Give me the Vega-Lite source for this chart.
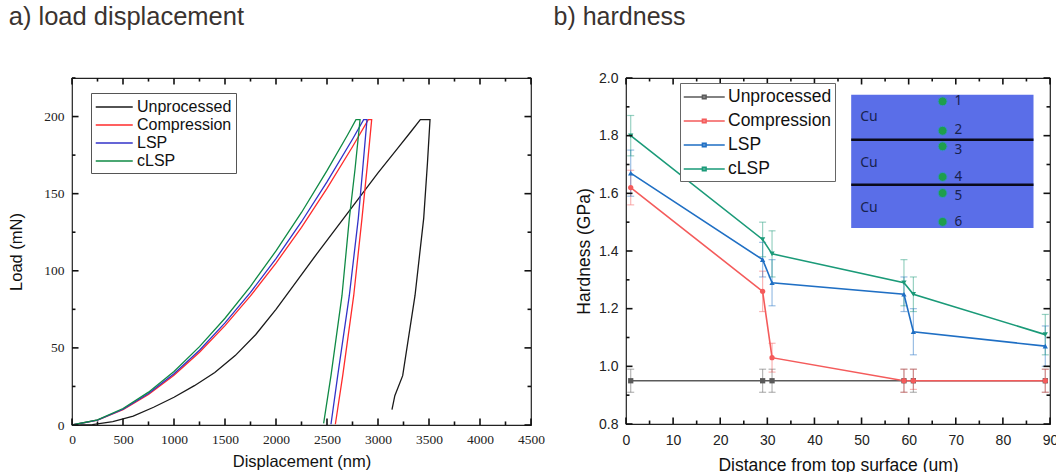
{
  "$schema": "https://vega.github.io/schema/vega-lite/v6.json",
  "background": "white",
  "padding": {"left": 8, "top": 4, "right": 0, "bottom": 0},
  "spacing": 6,
  "resolve": {"scale": {"color": "independent", "shape": "independent"}, "legend": {"color": "independent", "shape": "independent"}},
  "config": {
    "view": {"stroke": "#222", "strokeWidth": 1.2},
    "font": "Liberation Sans",
    "axis": {"grid": false, "domain": false, "ticks": false, "tickSize": 0, "labelColor": "#222", "titleColor": "#111", "titleFontWeight": "normal", "labelOverlap": false, "labelFlush": false}
  },
  "datasets": {
    "ld": [
      {"s": "Unprocessed", "i": 0, "d": 0, "l": 0},
      {"s": "Unprocessed", "i": 1, "d": 200, "l": 0.3},
      {"s": "Unprocessed", "i": 2, "d": 400, "l": 2.2},
      {"s": "Unprocessed", "i": 3, "d": 600, "l": 5.8},
      {"s": "Unprocessed", "i": 4, "d": 800, "l": 11.5},
      {"s": "Unprocessed", "i": 5, "d": 1000, "l": 18},
      {"s": "Unprocessed", "i": 6, "d": 1200, "l": 25.5},
      {"s": "Unprocessed", "i": 7, "d": 1400, "l": 34},
      {"s": "Unprocessed", "i": 8, "d": 1600, "l": 45},
      {"s": "Unprocessed", "i": 9, "d": 1800, "l": 58.5},
      {"s": "Unprocessed", "i": 10, "d": 2000, "l": 75},
      {"s": "Unprocessed", "i": 11, "d": 2200, "l": 93},
      {"s": "Unprocessed", "i": 12, "d": 2400, "l": 111},
      {"s": "Unprocessed", "i": 13, "d": 2600, "l": 128.5},
      {"s": "Unprocessed", "i": 14, "d": 2800, "l": 146},
      {"s": "Unprocessed", "i": 15, "d": 3000, "l": 163.5},
      {"s": "Unprocessed", "i": 16, "d": 3200, "l": 180},
      {"s": "Unprocessed", "i": 17, "d": 3320, "l": 190},
      {"s": "Unprocessed", "i": 18, "d": 3415, "l": 198},
      {"s": "Unprocessed", "i": 19, "d": 3510, "l": 198},
      {"s": "Unprocessed", "i": 20, "d": 3485, "l": 170},
      {"s": "Unprocessed", "i": 21, "d": 3448, "l": 134},
      {"s": "Unprocessed", "i": 22, "d": 3363, "l": 84},
      {"s": "Unprocessed", "i": 23, "d": 3242, "l": 32},
      {"s": "Unprocessed", "i": 24, "d": 3165, "l": 19},
      {"s": "Unprocessed", "i": 25, "d": 3137, "l": 10},
      {"s": "Compression", "i": 0, "d": 0, "l": 0},
      {"s": "Compression", "i": 1, "d": 250, "l": 3.1},
      {"s": "Compression", "i": 2, "d": 500, "l": 9.9},
      {"s": "Compression", "i": 3, "d": 750, "l": 19.8},
      {"s": "Compression", "i": 4, "d": 1000, "l": 32.3},
      {"s": "Compression", "i": 5, "d": 1250, "l": 47.2},
      {"s": "Compression", "i": 6, "d": 1500, "l": 64.4},
      {"s": "Compression", "i": 7, "d": 1750, "l": 83.7},
      {"s": "Compression", "i": 8, "d": 2000, "l": 105},
      {"s": "Compression", "i": 9, "d": 2250, "l": 128.2},
      {"s": "Compression", "i": 10, "d": 2500, "l": 153.4},
      {"s": "Compression", "i": 11, "d": 2750, "l": 180.4},
      {"s": "Compression", "i": 12, "d": 2905, "l": 198},
      {"s": "Compression", "i": 13, "d": 2938, "l": 198},
      {"s": "Compression", "i": 14, "d": 2895, "l": 168},
      {"s": "Compression", "i": 15, "d": 2843, "l": 134},
      {"s": "Compression", "i": 16, "d": 2762, "l": 84},
      {"s": "Compression", "i": 17, "d": 2654, "l": 32},
      {"s": "Compression", "i": 18, "d": 2582, "l": 0.5},
      {"s": "LSP", "i": 0, "d": 0, "l": 0},
      {"s": "LSP", "i": 1, "d": 250, "l": 3.1},
      {"s": "LSP", "i": 2, "d": 500, "l": 10.2},
      {"s": "LSP", "i": 3, "d": 750, "l": 20.4},
      {"s": "LSP", "i": 4, "d": 1000, "l": 33.2},
      {"s": "LSP", "i": 5, "d": 1250, "l": 48.5},
      {"s": "LSP", "i": 6, "d": 1500, "l": 66.2},
      {"s": "LSP", "i": 7, "d": 1750, "l": 86},
      {"s": "LSP", "i": 8, "d": 2000, "l": 107.9},
      {"s": "LSP", "i": 9, "d": 2250, "l": 131.8},
      {"s": "LSP", "i": 10, "d": 2500, "l": 157.6},
      {"s": "LSP", "i": 11, "d": 2750, "l": 185.3},
      {"s": "LSP", "i": 12, "d": 2859, "l": 198},
      {"s": "LSP", "i": 13, "d": 2892, "l": 198},
      {"s": "LSP", "i": 14, "d": 2850, "l": 166},
      {"s": "LSP", "i": 15, "d": 2807, "l": 134},
      {"s": "LSP", "i": 16, "d": 2719, "l": 84},
      {"s": "LSP", "i": 17, "d": 2605, "l": 32},
      {"s": "LSP", "i": 18, "d": 2539, "l": 0.5},
      {"s": "cLSP", "i": 0, "d": 0, "l": 0},
      {"s": "cLSP", "i": 1, "d": 250, "l": 3.3},
      {"s": "cLSP", "i": 2, "d": 500, "l": 10.7},
      {"s": "cLSP", "i": 3, "d": 750, "l": 21.3},
      {"s": "cLSP", "i": 4, "d": 1000, "l": 34.7},
      {"s": "cLSP", "i": 5, "d": 1250, "l": 50.8},
      {"s": "cLSP", "i": 6, "d": 1500, "l": 69.2},
      {"s": "cLSP", "i": 7, "d": 1750, "l": 89.9},
      {"s": "cLSP", "i": 8, "d": 2000, "l": 112.9},
      {"s": "cLSP", "i": 9, "d": 2250, "l": 137.8},
      {"s": "cLSP", "i": 10, "d": 2500, "l": 164.9},
      {"s": "cLSP", "i": 11, "d": 2700, "l": 187.9},
      {"s": "cLSP", "i": 12, "d": 2784, "l": 198},
      {"s": "cLSP", "i": 13, "d": 2824, "l": 198},
      {"s": "cLSP", "i": 14, "d": 2775, "l": 166},
      {"s": "cLSP", "i": 15, "d": 2719, "l": 134},
      {"s": "cLSP", "i": 16, "d": 2647, "l": 84},
      {"s": "cLSP", "i": 17, "d": 2539, "l": 32},
      {"s": "cLSP", "i": 18, "d": 2467, "l": 1}
    ],
    "ldTicksX": [
      {"v": 0, "k": "major"}, {"v": 250, "k": "minor"}, {"v": 500, "k": "major"}, {"v": 750, "k": "minor"},
      {"v": 1000, "k": "major"}, {"v": 1250, "k": "minor"}, {"v": 1500, "k": "major"}, {"v": 1750, "k": "minor"},
      {"v": 2000, "k": "major"}, {"v": 2250, "k": "minor"}, {"v": 2500, "k": "major"}, {"v": 2750, "k": "minor"},
      {"v": 3000, "k": "major"}, {"v": 3250, "k": "minor"}, {"v": 3500, "k": "major"}, {"v": 3750, "k": "minor"},
      {"v": 4000, "k": "major"}, {"v": 4250, "k": "minor"}, {"v": 4500, "k": "major"}
    ],
    "ldTicksY": [
      {"v": 0, "k": "major"}, {"v": 25, "k": "minor"}, {"v": 50, "k": "major"}, {"v": 75, "k": "minor"},
      {"v": 100, "k": "major"}, {"v": 125, "k": "minor"}, {"v": 150, "k": "major"}, {"v": 175, "k": "minor"},
      {"v": 200, "k": "major"}, {"v": 225, "k": "minor"}
    ],
    "hd": [
      {"s": "Unprocessed", "x": 1, "h": 0.95, "lo": 0.91, "hi": 0.99},
      {"s": "Unprocessed", "x": 29, "h": 0.95, "lo": 0.91, "hi": 0.99},
      {"s": "Unprocessed", "x": 31, "h": 0.95, "lo": 0.91, "hi": 0.99},
      {"s": "Unprocessed", "x": 59, "h": 0.95, "lo": 0.91, "hi": 0.99},
      {"s": "Unprocessed", "x": 61, "h": 0.95, "lo": 0.91, "hi": 0.99},
      {"s": "Unprocessed", "x": 89, "h": 0.95, "lo": 0.91, "hi": 0.99},
      {"s": "Compression", "x": 1, "h": 1.62, "lo": 1.56, "hi": 1.68},
      {"s": "Compression", "x": 29, "h": 1.26, "lo": 1.19, "hi": 1.33},
      {"s": "Compression", "x": 31, "h": 1.03, "lo": 0.98, "hi": 1.08},
      {"s": "Compression", "x": 59, "h": 0.95, "lo": 0.91, "hi": 0.99},
      {"s": "Compression", "x": 61, "h": 0.95, "lo": 0.92, "hi": 0.99},
      {"s": "Compression", "x": 89, "h": 0.95, "lo": 0.91, "hi": 0.99},
      {"s": "LSP", "x": 1, "h": 1.67, "lo": 1.59, "hi": 1.75},
      {"s": "LSP", "x": 29, "h": 1.37, "lo": 1.31, "hi": 1.43},
      {"s": "LSP", "x": 31, "h": 1.29, "lo": 1.21, "hi": 1.37},
      {"s": "LSP", "x": 59, "h": 1.25, "lo": 1.19, "hi": 1.31},
      {"s": "LSP", "x": 61, "h": 1.12, "lo": 1.04, "hi": 1.2},
      {"s": "LSP", "x": 89, "h": 1.07, "lo": 1.0, "hi": 1.14},
      {"s": "cLSP", "x": 1, "h": 1.8, "lo": 1.73, "hi": 1.87},
      {"s": "cLSP", "x": 29, "h": 1.44, "lo": 1.38, "hi": 1.5},
      {"s": "cLSP", "x": 31, "h": 1.39, "lo": 1.31, "hi": 1.47},
      {"s": "cLSP", "x": 59, "h": 1.29, "lo": 1.21, "hi": 1.37},
      {"s": "cLSP", "x": 61, "h": 1.25, "lo": 1.19, "hi": 1.31},
      {"s": "cLSP", "x": 89, "h": 1.11, "lo": 1.04, "hi": 1.18}
    ],
    "hdTicksX": [
      {"v": 0, "k": "major"}, {"v": 5, "k": "minor"}, {"v": 10, "k": "major"}, {"v": 15, "k": "minor"},
      {"v": 20, "k": "major"}, {"v": 25, "k": "minor"}, {"v": 30, "k": "major"}, {"v": 35, "k": "minor"},
      {"v": 40, "k": "major"}, {"v": 45, "k": "minor"}, {"v": 50, "k": "major"}, {"v": 55, "k": "minor"},
      {"v": 60, "k": "major"}, {"v": 65, "k": "minor"}, {"v": 70, "k": "major"}, {"v": 75, "k": "minor"},
      {"v": 80, "k": "major"}, {"v": 85, "k": "minor"}, {"v": 90, "k": "major"}
    ],
    "hdTicksY": [
      {"v": 0.8, "k": "major"}, {"v": 0.9, "k": "minor"}, {"v": 1.0, "k": "major"}, {"v": 1.1, "k": "minor"},
      {"v": 1.2, "k": "major"}, {"v": 1.3, "k": "minor"}, {"v": 1.4, "k": "major"}, {"v": 1.5, "k": "minor"},
      {"v": 1.6, "k": "major"}, {"v": 1.7, "k": "minor"}, {"v": 1.8, "k": "major"}, {"v": 1.9, "k": "minor"},
      {"v": 2.0, "k": "major"}
    ],
    "insetBox": [{"x1": 47.8, "x2": 86.5, "y1": 1.48, "y2": 1.942}],
    "insetLines": [
      {"x1": 47.8, "x2": 86.5, "y": 1.786},
      {"x1": 47.8, "x2": 86.5, "y": 1.63}
    ],
    "insetDots": [
      {"x": 67.2, "y": 1.919, "ty": 1.919, "t": "1"},
      {"x": 67.2, "y": 1.817, "ty": 1.818, "t": "2"},
      {"x": 67.2, "y": 1.763, "ty": 1.751, "t": "3"},
      {"x": 67.2, "y": 1.657, "ty": 1.658, "t": "4"},
      {"x": 67.2, "y": 1.601, "ty": 1.591, "t": "5"},
      {"x": 67.2, "y": 1.501, "ty": 1.501, "t": "6"}
    ],
    "insetLayers": [
      {"x": 49.7, "y": 1.865, "t": "Cu"},
      {"x": 49.7, "y": 1.705, "t": "Cu"},
      {"x": 49.7, "y": 1.549, "t": "Cu"}
    ]
  },
  "hconcat": [
    {
      "title": {"text": "a) load displacement", "anchor": "start", "fontSize": 25.5, "font": "Liberation Sans", "fontWeight": "normal", "color": "#3a3330", "baseline": "alphabetic", "offset": 27},
      "width": 459,
      "height": 347,
      "layer": [
        {
          "data": {"name": "ld"},
          "mark": {"type": "line", "strokeWidth": 1.3},
          "encoding": {
            "x": {"field": "d", "type": "quantitative", "scale": {"domain": [0, 4500], "nice": false},
              "axis": {"values": [0, 500, 1000, 1500, 2000, 2500, 3000, 3500, 4000, 4500], "format": "d", "title": "Displacement (nm)", "titleFontSize": 16.5, "titlePadding": 8, "labelFont": "Liberation Serif", "labelFontSize": 13.5, "labelPadding": 7}},
            "y": {"field": "l", "type": "quantitative", "scale": {"domain": [0, 225], "nice": false},
              "axis": {"values": [0, 50, 100, 150, 200], "title": "Load (mN)", "titleFontSize": 16.5, "titlePadding": 19, "labelFont": "Liberation Serif", "labelFontSize": 13.5, "labelPadding": 8}},
            "color": {"field": "s", "type": "nominal",
              "scale": {"domain": ["Unprocessed", "Compression", "LSP", "cLSP"], "range": ["#1a1a1a", "#ff2b2b", "#3232c8", "#0f8a45"]},
              "legend": {"title": null, "orient": "none", "legendX": 19, "legendY": 15, "symbolType": "M-1,0H3", "symbolSize": 342, "symbolStrokeWidth": 1.5, "labelFontSize": 16, "labelColor": "#111", "labelOffset": 22, "rowPadding": 0, "padding": 4, "strokeColor": "#555", "fillColor": "white"}},
            "order": {"field": "i", "type": "quantitative"}
          }
        },
        {
          "data": {"name": "ldTicksX"},
          "transform": [{"filter": "datum.k === 'major'"}],
          "mark": {"type": "rule", "color": "#111", "strokeWidth": 1.6},
          "encoding": {"x": {"field": "v", "type": "quantitative"}, "y": {"datum": 0, "type": "quantitative"}, "y2": {"datum": 4.2}}
        },
        {
          "data": {"name": "ldTicksX"},
          "transform": [{"filter": "datum.k === 'minor'"}],
          "mark": {"type": "rule", "color": "#111", "strokeWidth": 1.6},
          "encoding": {"x": {"field": "v", "type": "quantitative"}, "y": {"datum": 0, "type": "quantitative"}, "y2": {"datum": 2.3}}
        },
        {
          "data": {"name": "ldTicksX"},
          "transform": [{"filter": "datum.k === 'major'"}],
          "mark": {"type": "rule", "color": "#111", "strokeWidth": 1.6},
          "encoding": {"x": {"field": "v", "type": "quantitative"}, "y": {"datum": 225, "type": "quantitative"}, "y2": {"datum": 220.8}}
        },
        {
          "data": {"name": "ldTicksX"},
          "transform": [{"filter": "datum.k === 'minor'"}],
          "mark": {"type": "rule", "color": "#111", "strokeWidth": 1.6},
          "encoding": {"x": {"field": "v", "type": "quantitative"}, "y": {"datum": 225, "type": "quantitative"}, "y2": {"datum": 222.7}}
        },
        {
          "data": {"name": "ldTicksY"},
          "transform": [{"filter": "datum.k === 'major'"}],
          "mark": {"type": "rule", "color": "#111", "strokeWidth": 1.6},
          "encoding": {"y": {"field": "v", "type": "quantitative"}, "x": {"datum": 0, "type": "quantitative"}, "x2": {"datum": 64}}
        },
        {
          "data": {"name": "ldTicksY"},
          "transform": [{"filter": "datum.k === 'minor'"}],
          "mark": {"type": "rule", "color": "#111", "strokeWidth": 1.6},
          "encoding": {"y": {"field": "v", "type": "quantitative"}, "x": {"datum": 0, "type": "quantitative"}, "x2": {"datum": 34}}
        },
        {
          "data": {"name": "ldTicksY"},
          "transform": [{"filter": "datum.k === 'major'"}],
          "mark": {"type": "rule", "color": "#111", "strokeWidth": 1.6},
          "encoding": {"y": {"field": "v", "type": "quantitative"}, "x": {"datum": 4500, "type": "quantitative"}, "x2": {"datum": 4436}}
        },
        {
          "data": {"name": "ldTicksY"},
          "transform": [{"filter": "datum.k === 'minor'"}],
          "mark": {"type": "rule", "color": "#111", "strokeWidth": 1.6},
          "encoding": {"y": {"field": "v", "type": "quantitative"}, "x": {"datum": 4500, "type": "quantitative"}, "x2": {"datum": 4466}}
        }
      ]
    },
    {
      "title": {"text": "b) hardness", "anchor": "start", "fontSize": 25, "font": "Liberation Sans", "fontWeight": "normal", "color": "#3a3330", "baseline": "alphabetic", "offset": 27, "dx": -22, "dy": 6},
      "width": 424,
      "height": 346,
      "resolve": {"legend": {"color": "independent", "shape": "independent"}},
      "layer": [
        {
          "data": {"name": "hd"},
          "mark": {"type": "errorbar", "ticks": {"size": 7, "opacity": 0.45}, "rule": {"opacity": 0.45}, "thickness": 1.2},
          "encoding": {
            "x": {"field": "x", "type": "quantitative", "title": "Distance from top surface (um)"},
            "y": {"field": "lo", "type": "quantitative", "title": "Hardness (GPa)"},
            "y2": {"field": "hi"},
            "color": {"field": "s", "type": "nominal", "legend": null}
          }
        },
        {
          "data": {"name": "hd"},
          "mark": {"type": "line", "strokeWidth": 1.6},
          "encoding": {
            "x": {"field": "x", "type": "quantitative", "scale": {"domain": [0, 90], "nice": false},
              "axis": {"values": [0, 10, 20, 30, 40, 50, 60, 70, 80, 90], "title": "Distance from top surface (um)", "titleFontSize": 17.5, "titlePadding": 9, "labelFontSize": 14, "labelPadding": 9}},
            "y": {"field": "h", "type": "quantitative", "scale": {"domain": [0.8, 2.0], "nice": false, "zero": false},
              "axis": {"values": [0.8, 1.0, 1.2, 1.4, 1.6, 1.8, 2.0], "format": ".1f", "title": "Hardness (GPa)", "titleFontSize": 17.5, "titlePadding": 5, "labelFontSize": 14, "labelPadding": 8}},
            "color": {"field": "s", "type": "nominal",
              "scale": {"domain": ["Unprocessed", "Compression", "LSP", "cLSP"], "range": ["#5a5a5a", "#f45b5b", "#1f6fc4", "#1a9a78"]},
              "legend": {"title": null, "orient": "none", "legendX": 54, "legendY": 5, "symbolType": "M-1,0H3M0.82,-0.18H1.18V0.18H0.82Z", "symbolSize": 420, "symbolStrokeWidth": 1.5, "labelFontSize": 17.5, "labelColor": "#111", "labelOffset": 23, "rowPadding": 4, "padding": 3, "strokeColor": "#666", "fillColor": "white"}}
          }
        },
        {
          "data": {"name": "hd"},
          "mark": {"type": "point", "filled": true, "size": 28, "opacity": 1},
          "encoding": {
            "x": {"field": "x", "type": "quantitative"},
            "y": {"field": "h", "type": "quantitative"},
            "shape": {"field": "s", "type": "nominal", "scale": {"domain": ["Unprocessed", "Compression", "LSP", "cLSP"], "range": ["square", "circle", "triangle-up", "triangle-down"]}, "legend": null},
            "color": {"field": "s", "type": "nominal", "legend": null}
          }
        },
        {
          "data": {"name": "insetBox"},
          "mark": {"type": "rect", "color": "#5a6ee8", "opacity": 1},
          "encoding": {
            "x": {"field": "x1", "type": "quantitative"},
            "x2": {"field": "x2"},
            "y": {"field": "y1", "type": "quantitative"},
            "y2": {"field": "y2"}
          }
        },
        {
          "data": {"name": "insetLines"},
          "mark": {"type": "rule", "color": "#0a0a1a", "strokeWidth": 2.6},
          "encoding": {
            "x": {"field": "x1", "type": "quantitative"},
            "x2": {"field": "x2"},
            "y": {"field": "y", "type": "quantitative"}
          }
        },
        {
          "data": {"name": "insetDots"},
          "mark": {"type": "point", "filled": true, "shape": "circle", "size": 80, "color": "#1f9e4c", "stroke": "#3a8ad0", "strokeWidth": 1, "opacity": 1},
          "encoding": {
            "x": {"field": "x", "type": "quantitative"},
            "y": {"field": "y", "type": "quantitative"}
          }
        },
        {
          "data": {"name": "insetDots"},
          "mark": {"type": "text", "align": "left", "baseline": "middle", "font": "Noto Sans", "fontSize": 13.5, "color": "#18224f", "dx": 12},
          "encoding": {
            "x": {"field": "x", "type": "quantitative"},
            "y": {"field": "ty", "type": "quantitative"},
            "text": {"field": "t"}
          }
        },
        {
          "data": {"name": "insetLayers"},
          "mark": {"type": "text", "align": "left", "baseline": "middle", "font": "Noto Sans", "fontSize": 14, "color": "#18224f"},
          "encoding": {
            "x": {"field": "x", "type": "quantitative"},
            "y": {"field": "y", "type": "quantitative"},
            "text": {"field": "t"}
          }
        },
        {
          "data": {"name": "hdTicksX"},
          "transform": [{"filter": "datum.k === 'major'"}],
          "mark": {"type": "rule", "color": "#111", "strokeWidth": 1.6},
          "encoding": {"x": {"field": "v", "type": "quantitative"}, "y": {"datum": 0.8, "type": "quantitative"}, "y2": {"datum": 0.8225}}
        },
        {
          "data": {"name": "hdTicksX"},
          "transform": [{"filter": "datum.k === 'minor'"}],
          "mark": {"type": "rule", "color": "#111", "strokeWidth": 1.6},
          "encoding": {"x": {"field": "v", "type": "quantitative"}, "y": {"datum": 0.8, "type": "quantitative"}, "y2": {"datum": 0.812}}
        },
        {
          "data": {"name": "hdTicksX"},
          "transform": [{"filter": "datum.k === 'major'"}],
          "mark": {"type": "rule", "color": "#111", "strokeWidth": 1.6},
          "encoding": {"x": {"field": "v", "type": "quantitative"}, "y": {"datum": 2.0, "type": "quantitative"}, "y2": {"datum": 1.9775}}
        },
        {
          "data": {"name": "hdTicksX"},
          "transform": [{"filter": "datum.k === 'minor'"}],
          "mark": {"type": "rule", "color": "#111", "strokeWidth": 1.6},
          "encoding": {"x": {"field": "v", "type": "quantitative"}, "y": {"datum": 2.0, "type": "quantitative"}, "y2": {"datum": 1.988}}
        },
        {
          "data": {"name": "hdTicksY"},
          "transform": [{"filter": "datum.k === 'major'"}],
          "mark": {"type": "rule", "color": "#111", "strokeWidth": 1.6},
          "encoding": {"y": {"field": "v", "type": "quantitative"}, "x": {"datum": 0, "type": "quantitative"}, "x2": {"datum": 1.38}}
        },
        {
          "data": {"name": "hdTicksY"},
          "transform": [{"filter": "datum.k === 'minor'"}],
          "mark": {"type": "rule", "color": "#111", "strokeWidth": 1.6},
          "encoding": {"y": {"field": "v", "type": "quantitative"}, "x": {"datum": 0, "type": "quantitative"}, "x2": {"datum": 0.74}}
        },
        {
          "data": {"name": "hdTicksY"},
          "transform": [{"filter": "datum.k === 'major'"}],
          "mark": {"type": "rule", "color": "#111", "strokeWidth": 1.6},
          "encoding": {"y": {"field": "v", "type": "quantitative"}, "x": {"datum": 90, "type": "quantitative"}, "x2": {"datum": 88.62}}
        },
        {
          "data": {"name": "hdTicksY"},
          "transform": [{"filter": "datum.k === 'minor'"}],
          "mark": {"type": "rule", "color": "#111", "strokeWidth": 1.6},
          "encoding": {"y": {"field": "v", "type": "quantitative"}, "x": {"datum": 90, "type": "quantitative"}, "x2": {"datum": 89.26}}
        }
      ]
    }
  ]
}
